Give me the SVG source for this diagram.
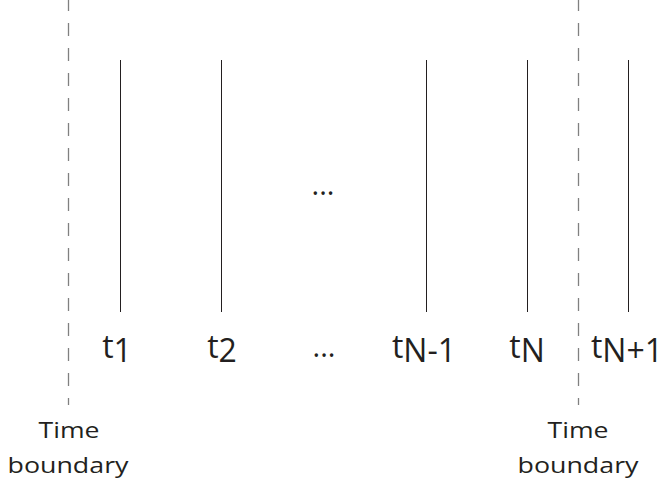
<svg xmlns="http://www.w3.org/2000/svg" width="662" height="484" viewBox="0 0 662 484">
<style>
.bd{stroke:#808080;stroke-width:1.3;stroke-dasharray:13,12;fill:none}
.tl{stroke:#231f20;stroke-width:1;fill:none}
.lb{font-family:"Open Sans","Noto Sans",sans-serif;font-size:32px;fill:#231f20;text-anchor:middle}
.dt{font-family:"Open Sans","Noto Sans",sans-serif;font-size:29px;fill:#231f20;text-anchor:middle}
.cap{font-family:"Open Sans","Noto Sans",sans-serif;font-size:21px;fill:#231f20;text-anchor:middle}
</style>
<rect width="662" height="484" fill="#fff"/>
<g id="connectors">
<line class="bd" x1="68.5" y1="-2" x2="68.5" y2="405"/>
<line class="bd" x1="578.5" y1="-2" x2="578.5" y2="405"/>
<line class="tl" x1="120.5" y1="60" x2="120.5" y2="312"/>
<line class="tl" x1="221.5" y1="60" x2="221.5" y2="312"/>
<line class="tl" x1="426.5" y1="60" x2="426.5" y2="312"/>
<line class="tl" x1="527.5" y1="60" x2="527.5" y2="312"/>
<line class="tl" x1="628.5" y1="60" x2="628.5" y2="312"/>
</g>
<g id="t1"><text class="lb" x="117" y="358">t<tspan dy="4">1</tspan></text></g>
<g id="t2"><text class="lb" x="222" y="358">t<tspan dy="4">2</tspan></text></g>
<g id="dots-bottom"><text class="dt" x="324" y="357">...</text></g>
<g id="dots-mid"><text class="dt" x="323" y="195">...</text></g>
<g id="tN-1"><text class="lb" x="424" y="358">t<tspan dy="4">N-1</tspan></text></g>
<g id="tN"><text class="lb" x="527" y="358">t<tspan dy="4">N</tspan></text></g>
<g id="tN+1"><text class="lb" x="627" y="358">t<tspan dy="4">N+1</tspan></text></g>
<g id="boundary-left"><text class="cap" x="69" y="438" textLength="61" lengthAdjust="spacingAndGlyphs">Time</text><text class="cap" x="68" y="473" textLength="121" lengthAdjust="spacingAndGlyphs">boundary</text></g>
<g id="boundary-right"><text class="cap" x="578" y="438" textLength="61" lengthAdjust="spacingAndGlyphs">Time</text><text class="cap" x="578" y="473" textLength="121" lengthAdjust="spacingAndGlyphs">boundary</text></g>
</svg>
